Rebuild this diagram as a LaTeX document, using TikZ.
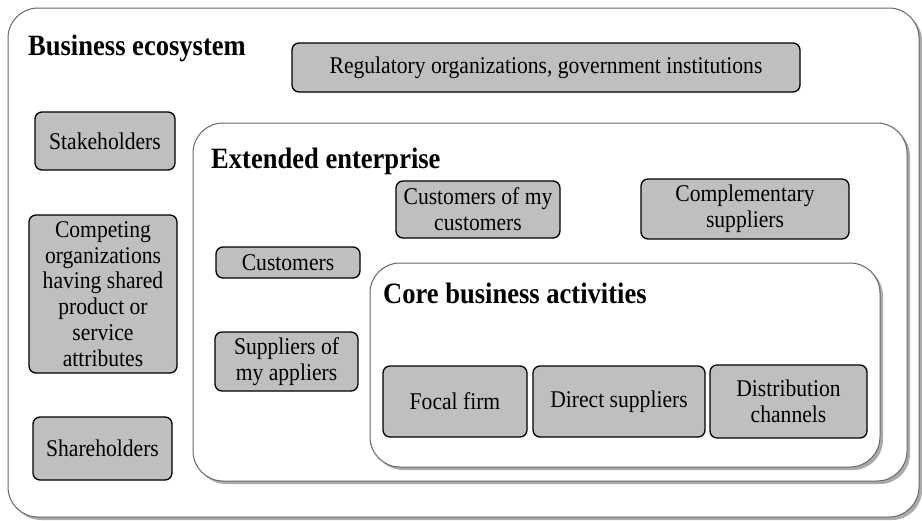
\documentclass[tikz,border=0pt]{standalone}
\usepackage{fontspec}
\setmainfont{Liberation Serif}[FakeStretch=0.9]
\usetikzlibrary{shadows}
\definecolor{boxgray}{RGB}{191,191,191}

\begin{document}
\begin{tikzpicture}[
    x=1pt,y=-1pt,
    frame/.style={draw=black!60, line width=1pt, fill=white, rounded corners=30pt,
      drop shadow={shadow xshift=3pt, shadow yshift=-3pt, fill=black!55, opacity=0.6}},
    box/.style={draw=black, line width=1.3pt, fill=boxgray, rounded corners=7pt,
      align=center, inner sep=0pt, font=\fontsize{24}{25.7}\selectfont},
    title/.style={anchor=base west, inner sep=0pt, font=\fontsize{29.5}{31}\selectfont\bfseries}
    ]
    \useasboundingbox (0,0) rectangle (922,520);
    % business ecosystem
    \node[frame, minimum width=911, minimum height=509] (eco) at (463.5,262.5) {};
    \node[title] (ecotitle) at (28,55) {Business ecosystem};
    \node[box, minimum width=508, minimum height=49] (regul) at (546,67.5)
      {Regulatory organizations, government institutions};
    \node[box, minimum width=140, minimum height=58] (stake) at (105,141) {Stakeholders};
    \node[box, minimum width=148, minimum height=158] (compet) at (103,294)
      {Competing\\organizations\\having shared\\product or\\service\\attributes};
    \node[box, minimum width=139, minimum height=63] (share) at (102.5,448.5) {Shareholders};
    % extended enterprise
    \node[frame, minimum width=714, minimum height=358] (ext) at (550,302) {};
    \node[title] (exttitle) at (211,168) {Extended enterprise};
    \node[box, minimum width=164, minimum height=57] (custcust) at (478,209.5)
      {Customers of my\\customers};
    \node[box, minimum width=208, minimum height=60] (compl) at (745,209)
      {Complementary\\suppliers};
    \node[box, minimum width=144, minimum height=31] (cust) at (288,262.5) {Customers};
    \node[box, minimum width=143, minimum height=59] (suppsupp) at (286.5,361.5)
      {Suppliers of\\my appliers};
    % core business
    \node[frame, minimum width=510, minimum height=204] (core) at (625,365) {};
    \node[title] (coretitle) at (383,303) {Core business activities};
    \node[box, minimum width=144, minimum height=71] (focal) at (455,401.5) {Focal firm};
    \node[box, minimum width=172, minimum height=71] (direct) at (619,401.5) {Direct suppliers};
    \node[box, minimum width=157, minimum height=73] (distr) at (788.5,401.5)
      {Distribution\\channels};
\end{tikzpicture}
\end{document}
